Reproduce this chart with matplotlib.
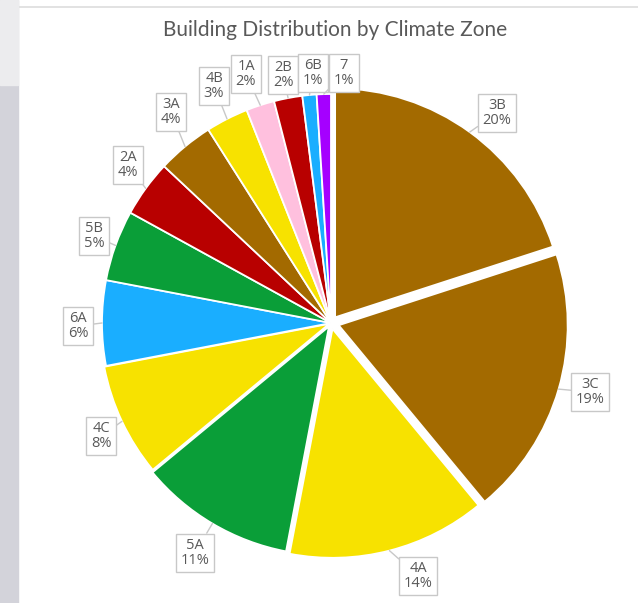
import matplotlib.pyplot as plt
from matplotlib.patches import Rectangle
import numpy as np

# climate zones, clockwise from 12 o'clock
zones = ['3B', '3C', '4A', '5A', '4C', '6A', '5B', '2A', '3A', '4B', '1A', '2B', '6B', '7']
shares = [20, 19, 14, 11, 8, 6, 5, 4, 4, 3, 2, 2, 1, 1]
colors = ['#A36A00', '#A36A00', '#F7E200', '#0A9E38', '#F7E200', '#1AAEFF', '#0A9E38',
          '#B80000', '#A36A00', '#F7E200', '#FFC0DE', '#B80000', '#1AAEFF', '#A500FF']
# pull-out distance in pixels
explode = [7, 8, 6, 4, 2, 0, 0, 0, 0, 0, 0, 0, 0, 0]
# label box centres (pixels from top-left)
label_pos = [(497, 113), (590, 392), (418, 576), (195, 553), (101, 436), (78, 326),
             (94, 236), (128, 165), (171, 112), (214, 86), (246, 74), (283, 75),
             (313, 73), (344, 73)]

W, H = 638, 603
fig = plt.figure(figsize=(W / 100, H / 100), dpi=100)
ax = fig.add_axes([0, 0, 1, 1])

cx, cy, r = 331, H - 323, 229
wedges, _ = ax.pie(shares, colors=colors, explode=explode, startangle=90,
                   counterclock=False, center=(cx, cy), radius=r,
                   wedgeprops=dict(edgecolor='white', linewidth=1.3))

# pie() sets its own limits, so put the pixel frame back afterwards
ax.set_xlim(0, W)
ax.set_ylim(0, H)
ax.set_aspect('equal')
ax.axis('off')

# window frame bits on the left / top
fig.patches.append(Rectangle((0, 0), 18 / W, 1, transform=fig.transFigure,
                             color='#D3D3DA', zorder=0))
fig.patches.append(Rectangle((0, 1 - 85 / H), 18 / W, 85 / H, transform=fig.transFigure,
                             color='#ECECEE', zorder=0))
ax.plot([15, W], [H - 7, H - 7], color='#DDDDDD', lw=1.2)

for w, z, s, (lx, ly), e in zip(wedges, zones, shares, label_pos, explode):
    mid = np.deg2rad((w.theta1 + w.theta2) / 2)
    px = cx + (r + e) * np.cos(mid)
    py = cy + (r + e) * np.sin(mid)
    ax.annotate(f'{z}\n{s}%', xy=(px, py), xytext=(lx, H - ly),
                ha='center', va='center', fontsize=10.5, color='#595959',
                family='Open Sans', linespacing=1.0,
                bbox=dict(boxstyle='square,pad=0.3', fc='white', ec='#C8C8C8', lw=1),
                arrowprops=dict(arrowstyle='-', color='#C8C8C8', lw=1,
                                shrinkA=0, shrinkB=0))

ax.text(cx + 4, H - 30, 'Building Distribution by Climate Zone', ha='center', va='center',
        fontsize=15, color='#595959', family='Lato')

fig.savefig('out.png', dpi=100)
